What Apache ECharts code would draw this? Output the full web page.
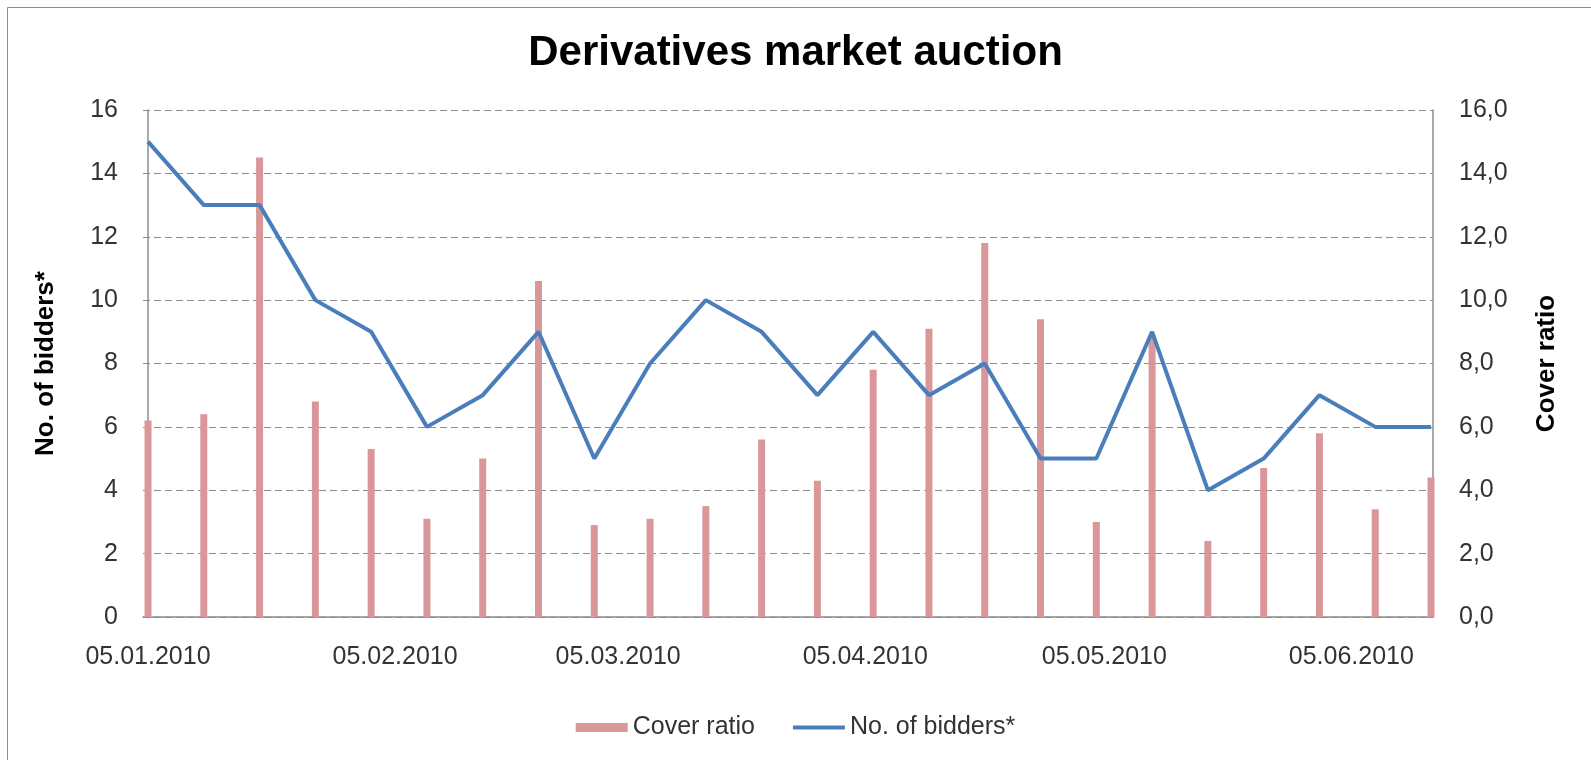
<!DOCTYPE html>
<html>
<head>
<meta charset="utf-8">
<title>Derivatives market auction</title>
<script src="https://cdn.jsdelivr.net/npm/echarts@6/dist/echarts.min.js"></script>
<style>
  html, body { margin: 0; padding: 0; background: #fff; }
  #chart { width: 1591px; height: 760px; }
</style>
</head>
<body>
<div id="chart"></div>
<script>
// weekly auction dates
var dates = ['2010-01-05', '2010-01-12', '2010-01-19', '2010-01-26', '2010-02-02', '2010-02-09',
  '2010-02-16', '2010-02-23', '2010-03-02', '2010-03-09', '2010-03-16', '2010-03-23',
  '2010-03-30', '2010-04-06', '2010-04-13', '2010-04-20', '2010-04-27', '2010-05-04',
  '2010-05-11', '2010-05-18', '2010-05-25', '2010-06-01', '2010-06-08', '2010-06-15']
var coverRatio = [6.2, 6.4, 14.5, 6.8, 5.3, 3.1, 5.0, 10.6, 2.9, 3.1, 3.5, 5.6,
  4.3, 7.8, 9.1, 11.8, 9.4, 3.0, 8.9, 2.4, 4.7, 5.8, 3.4, 4.4]
var bidders = [15, 13, 13, 10, 9, 6, 7, 9, 5, 8, 10, 9, 7, 9, 7, 8, 5, 5, 9, 4, 5, 7, 6, 6]
// x axis labels (5th of each month)
var xLabels = ['2010-01-05', '2010-02-05', '2010-03-05', '2010-04-05', '2010-05-05', '2010-06-05']

// days since the first auction
var DAY = 24 * 3600 * 1000
var t0 = ts(dates[0])
function ts(s) {
  var p = s.split('-')
  return Date.UTC(+p[0], +p[1] - 1, +p[2])
}
function dayOf(s) { return Math.round((ts(s) - t0) / DAY) }
function pad(n) { return n < 10 ? '0' + n : '' + n }

var textColor = '#333'
var axisGray = '#8c8c8c'
var font = 'Liberation Sans, Arial, sans-serif'

var chart = echarts.init(document.getElementById('chart'))

chart.setOption({
  backgroundColor: '#fff',
  animation: false,
  textStyle: { fontFamily: font },
  graphic: [{
    type: 'rect',
    shape: { x: 7.5, y: 7.5, width: 1600, height: 800 },
    style: { fill: 'none', stroke: '#8c8c8c', lineWidth: 1 }
  }],
  title: {
    text: 'Derivatives market auction',
    left: 'center',
    top: 27,
    textStyle: { fontSize: 42, fontWeight: 'bold', color: '#000', fontFamily: font }
  },
  legend: {
    bottom: 15,
    left: 'center',
    itemWidth: 52,
    itemHeight: 9,
    itemGap: 36,
    textStyle: { fontSize: 25, color: textColor, fontFamily: font },
    data: [
      { name: 'Cover ratio', icon: 'rect' },
      { name: 'No. of bidders*', itemStyle: { opacity: 0 }, lineStyle: { width: 4 } }
    ]
  },
  grid: {
    left: 143,
    right: 158,
    top: 110,
    bottom: 143
  },
  xAxis: {
    type: 'value',
    min: -0.63,
    max: dayOf(dates[dates.length - 1]) + 0.25,
    axisLine: { onZero: false, lineStyle: { color: axisGray, width: 1.5 } },
    axisTick: { show: false },
    splitLine: { show: false },
    axisLabel: {
      customValues: xLabels.map(dayOf),
      showMinLabel: true,
      showMaxLabel: true,
      margin: 28,
      fontSize: 25,
      color: textColor,
      fontFamily: font,
      formatter: function (v) {
        var d = new Date(t0 + v * DAY)
        return pad(d.getUTCDate()) + '.' + pad(d.getUTCMonth() + 1) + '.' + d.getUTCFullYear()
      }
    }
  },
  yAxis: [{
    type: 'value',
    min: 0,
    max: 16,
    interval: 2,
    name: 'No. of bidders*',
    nameLocation: 'middle',
    nameGap: 84,
    nameTextStyle: { fontSize: 26, fontWeight: 'bold', color: '#000', fontFamily: font },
    axisLine: { show: true, lineStyle: { color: axisGray, width: 1.5 } },
    axisTick: { show: false },
    axisLabel: { fontSize: 25, color: textColor, margin: 25, fontFamily: font },
    splitLine: { lineStyle: { color: '#8c8c8c', type: [7, 4], width: 1.2 } }
  }, {
    type: 'value',
    min: 0,
    max: 16,
    interval: 2,
    position: 'right',
    name: 'Cover ratio',
    nameLocation: 'middle',
    nameGap: 101,
    nameTextStyle: { fontSize: 26, fontWeight: 'bold', color: '#000', fontFamily: font },
    axisLine: { show: true, lineStyle: { color: axisGray, width: 1.5 } },
    axisTick: { show: false },
    axisLabel: {
      fontSize: 25, color: textColor, margin: 26, fontFamily: font,
      formatter: function (v) { return v.toFixed(1).replace('.', ',') }
    },
    splitLine: { show: false }
  }],
  series: [{
    name: 'Cover ratio',
    type: 'bar',
    yAxisIndex: 1,
    barWidth: 7,
    itemStyle: { color: '#d9979a' },
    data: dates.map(function (d, i) { return [dayOf(d), coverRatio[i]] })
  }, {
    name: 'No. of bidders*',
    type: 'line',
    yAxisIndex: 0,
    symbol: 'none',
    lineStyle: { color: '#4a7ebb', width: 4 },
    itemStyle: { color: '#4a7ebb' },
    data: dates.map(function (d, i) { return [dayOf(d), bidders[i]] })
  }]
})
</script>
</body>
</html>
